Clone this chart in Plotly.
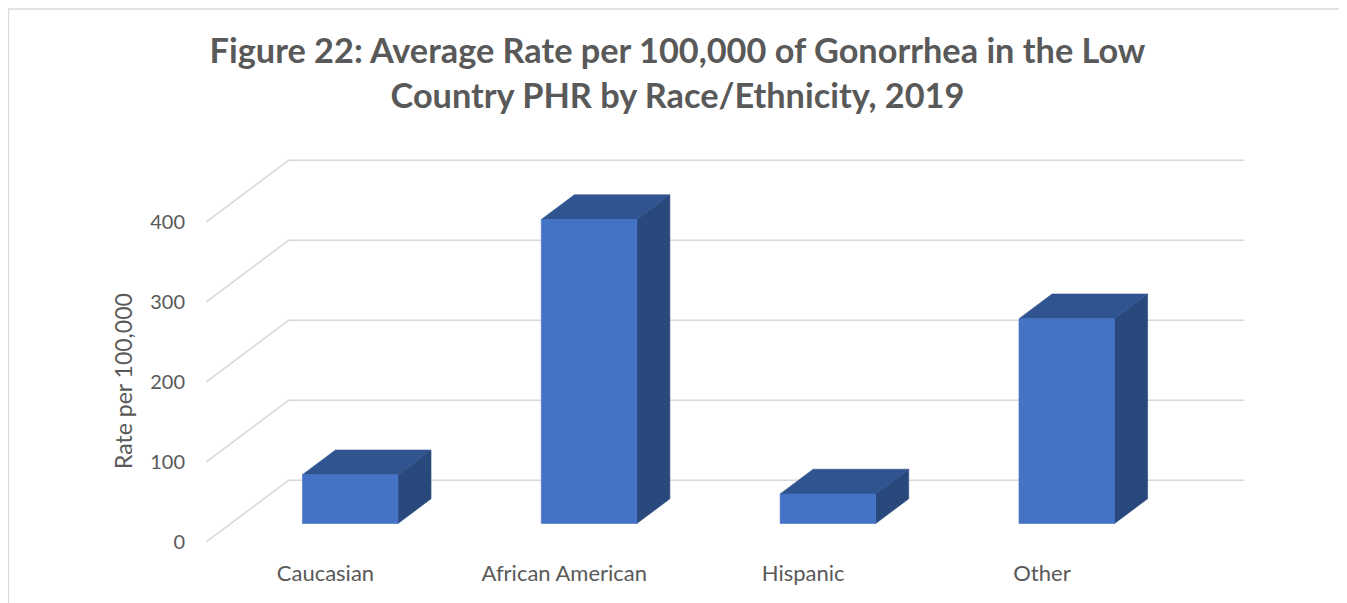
import plotly.graph_objects as go

# ---------------- data ----------------
categories = ["Caucasian", "African American", "Hispanic", "Other"]
rates = [61, 380, 37, 256]
y_ticks = [0, 100, 200, 300, 400]
title_text = ("Figure 22: Average Rate per 100,000 of Gonorrhea in the Low<br>"
              "Country PHR by Race/Ethnicity, 2019")
y_title = "Rate per 100,000"

# ---------------- style / projection ----------------
DEPTH_X = 0.3458   # floor depth, in category units (oblique projection)
DEPTH_Y = 77.1     # floor depth, in value units
BAR_W = 0.4        # bar width as fraction of category
BAR_D0, BAR_D1 = 0.3, 0.7  # bar position along depth
FRONT_C = "#4472C4"
TOP_C = "#30548F"
SIDE_C = "#29487C"
GRID_C = "#D9D9D9"
TEXT_C = "#595959"
FONT = "Lato"

W, H = 1339, 595
ML, MR, MT, MB = 198, 103, 132, 61
n = len(categories)
PW, PH = W - ML - MR, H - MT - MB
y_max = PH / 0.8

fig = go.Figure()

# gridlines: left-wall diagonals + back-wall horizontals
for v in y_ticks:
    fig.add_trace(go.Scatter(
        x=[0, DEPTH_X, n + DEPTH_X], y=[v, v + DEPTH_Y, v + DEPTH_Y],
        mode="lines", line=dict(color=GRID_C, width=1.6),
        hoverinfo="skip", showlegend=False))

# 3D-look bars
def poly(xs, ys, color, name, r):
    fig.add_trace(go.Scatter(
        x=xs, y=ys, mode="lines", fill="toself", fillcolor=color,
        line=dict(color=color, width=0.6), name=name,
        hovertemplate=f"{name}: {r}<extra></extra>", showlegend=False))

for i, (c, r) in enumerate(zip(categories, rates)):
    xl = i + 0.5 - BAR_W / 2
    xr = i + 0.5 + BAR_W / 2
    ox0, oy0 = BAR_D0 * DEPTH_X, BAR_D0 * DEPTH_Y
    ox1, oy1 = BAR_D1 * DEPTH_X, BAR_D1 * DEPTH_Y
    # side face
    poly([xr + ox0, xr + ox1, xr + ox1, xr + ox0, xr + ox0],
         [oy0, oy1, r + oy1, r + oy0, oy0], SIDE_C, c, r)
    # top face
    poly([xl + ox0, xr + ox0, xr + ox1, xl + ox1, xl + ox0],
         [r + oy0, r + oy0, r + oy1, r + oy1, r + oy0], TOP_C, c, r)
    # front face
    poly([xl + ox0, xr + ox0, xr + ox0, xl + ox0, xl + ox0],
         [oy0, oy0, r + oy0, r + oy0, oy0], FRONT_C, c, r)

fig.update_layout(
    width=W, height=H,
    margin=dict(l=ML, r=MR, t=MT, b=MB, pad=0),
    paper_bgcolor="white", plot_bgcolor="white",
    font=dict(family=FONT, color=TEXT_C, size=20),
    showlegend=False,
    title=dict(text=title_text, x=0.5, xref="container", xanchor="center",
               y=1 - 55 / H, yref="container", yanchor="top",
               font=dict(family=FONT, size=34.3, color=TEXT_C, weight="bold")),
    xaxis=dict(range=[0, n + DEPTH_X], tickvals=[i + 0.5 for i in range(n)],
               ticktext=categories, showgrid=False, zeroline=False,
               showline=False, ticks="", ticklabelstandoff=16,
               tickfont=dict(size=22, color=TEXT_C), fixedrange=True),
    yaxis=dict(range=[0, y_max], tickvals=y_ticks,
               showgrid=False, zeroline=False, showline=False, ticks="",
               ticklabelstandoff=20, tickfont=dict(size=20, color=TEXT_C),
               fixedrange=True),
    annotations=[dict(text=y_title, textangle=-90, showarrow=False,
                      xref="paper", yref="paper",
                      x=(115 - ML) / PW, y=(H - MB - 373) / PH,
                      xanchor="center", yanchor="middle",
                      font=dict(size=23, color=TEXT_C))],
    shapes=[dict(type="rect", xref="paper", yref="paper",
                 x0=(0.5 - ML) / PW, x1=(1335 - ML) / PW,
                 y0=(H - MB - 640) / PH, y1=(H - MB - 1) / PH,
                 line=dict(color=GRID_C, width=1.3), layer="below")],
)

fig.write_html("out.html")
